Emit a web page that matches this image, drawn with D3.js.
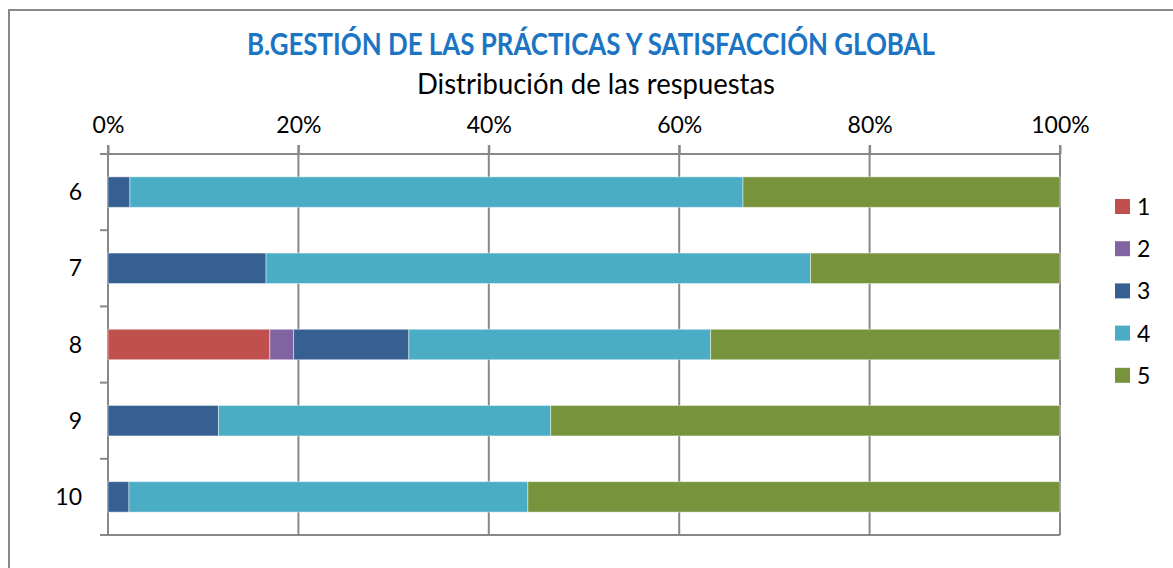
<!DOCTYPE html>
<html>
<head>
<meta charset="utf-8">
<script src="https://cdn.jsdelivr.net/npm/d3@7"></script>
<style>
  body { margin: 0; background: #fff; }
  text { font-family: Lato, "Open Sans", sans-serif; fill: #000; }
</style>
</head>
<body>
<div class="chart"></div>
<script>
// categories (question numbers) and % of answers per score
var categories = ["6", "7", "8", "9", "10"];
var keys = ["1", "2", "3", "4", "5"];
var score1 = [0, 0, 17.0, 0, 0];
var score2 = [0, 0, 2.5, 0, 0];
var score3 = [2.3, 16.6, 12.1, 11.6, 2.2];
var score4 = [64.4, 57.2, 31.7, 34.9, 41.9];
var score5 = [33.3, 26.2, 36.7, 53.5, 55.9];
var tickValues = [0, 20, 40, 60, 80, 100];
var colors = ["#C0504D", "#8064A2", "#376092", "#4BACC6", "#77933C"];

var width = 1173, height = 568;
var plot = {left: 108, right: 1060, top: 154, bottom: 535};
var axisColor = "#888";

var rows = categories.map(function(c, i) {
  return {cat: c, "1": score1[i], "2": score2[i], "3": score3[i], "4": score4[i], "5": score5[i]};
});

var svg = d3.select(".chart").append("svg")
  .attr("width", width)
  .attr("height", height);

// outer chart frame
svg.append("path")
  .attr("d", "M9," + height + "V10H" + width)
  .attr("fill", "none")
  .attr("stroke", axisColor)
  .attr("stroke-width", 2);

svg.append("text")
  .attr("x", 591)
  .attr("y", 55)
  .attr("text-anchor", "middle")
  .attr("textLength", 688)
  .attr("lengthAdjust", "spacingAndGlyphs")
  .style("font-size", "30px")
  .style("font-weight", "bold")
  .style("fill", "#1B75C3")
  .text("B.GESTIÓN DE LAS PRÁCTICAS Y SATISFACCIÓN GLOBAL");

svg.append("text")
  .attr("x", 596)
  .attr("y", 94)
  .attr("text-anchor", "middle")
  .attr("textLength", 358)
  .attr("lengthAdjust", "spacingAndGlyphs")
  .style("font-size", "28px")
  .text("Distribución de las respuestas");

var x = d3.scaleLinear()
  .domain([0, 100])
  .range([plot.left, plot.right]);

var y = d3.scaleBand()
  .domain(categories)
  .range([plot.top, plot.bottom])
  .paddingInner(0.6)
  .paddingOuter(0.3);

// gridlines at each tick (incl. right edge)
svg.append("g")
  .selectAll("line")
  .data(tickValues.slice(1))
  .enter().append("line")
  .attr("x1", function(d) { return x(d); })
  .attr("x2", function(d) { return x(d); })
  .attr("y1", plot.top - 9)
  .attr("y2", plot.bottom)
  .attr("stroke", axisColor)
  .attr("stroke-width", 2);

// top value axis
var xAxis = svg.append("g")
  .attr("transform", "translate(0," + plot.top + ")")
  .call(d3.axisTop(x)
    .tickValues(tickValues)
    .tickSize(9)
    .tickPadding(12)
    .tickFormat(function(d) { return d + "%"; }));
xAxis.select(".domain").remove();
xAxis.selectAll(".tick line").attr("stroke", axisColor).attr("stroke-width", 2);
xAxis.selectAll(".tick text")
  .style("font-size", "23px")
  .style("font-family", "Lato, sans-serif")
  .attr("fill", "#000");

// horizontal lines at top and bottom of plot
svg.append("g")
  .selectAll("line")
  .data([plot.top, plot.bottom])
  .enter().append("line")
  .attr("x1", plot.left - 8)
  .attr("x2", plot.right)
  .attr("y1", function(d) { return d; })
  .attr("y2", function(d) { return d; })
  .attr("stroke", axisColor)
  .attr("stroke-width", 2);

// left category axis with ticks between categories
var step = y.step();
var boundaries = categories.slice(1).map(function(c) { return y(c) - step * y.paddingInner() / 2; });
svg.append("line")
  .attr("x1", plot.left).attr("x2", plot.left)
  .attr("y1", plot.top - 9).attr("y2", plot.bottom)
  .attr("stroke", axisColor)
  .attr("stroke-width", 2);
svg.append("g")
  .selectAll("line")
  .data(boundaries)
  .enter().append("line")
  .attr("x1", plot.left - 8)
  .attr("x2", plot.left)
  .attr("y1", function(d) { return d; })
  .attr("y2", function(d) { return d; })
  .attr("stroke", axisColor)
  .attr("stroke-width", 2);

svg.append("g")
  .selectAll("text")
  .data(categories)
  .enter().append("text")
  .attr("x", plot.left - 26)
  .attr("y", function(d) { return y(d) + y.bandwidth() / 2 + 8; })
  .attr("text-anchor", "end")
  .style("font-size", "23px")
  .text(function(d) { return d; });

// stacked bars
var series = d3.stack().keys(keys)(rows);

svg.append("g")
  .selectAll("g")
  .data(series)
  .enter().append("g")
  .attr("fill", function(d, i) { return colors[i]; })
  .selectAll("rect")
  .data(function(d) { return d; })
  .enter().append("rect")
  .attr("x", function(d) { return x(d[0]); })
  .attr("y", function(d) { return y(d.data.cat); })
  .attr("width", function(d) { return x(d[1]) - x(d[0]); })
  .attr("height", y.bandwidth())
  .attr("stroke", "#fff")
  .attr("stroke-opacity", 0.45)
  .attr("stroke-width", function(d) { return d[1] > d[0] ? 1 : 0; });

// legend
var legend = svg.append("g").attr("class", "legend");
keys.forEach(function(k, i) {
  legend.append("rect")
    .attr("x", 1115)
    .attr("y", 199 + i * 42.2)
    .attr("width", 15)
    .attr("height", 15)
    .style("fill", colors[i]);
  legend.append("text")
    .attr("x", 1137)
    .attr("y", 215 + i * 42.2)
    .style("font-size", "23px")
    .text(k);
});
</script>
</body>
</html>
